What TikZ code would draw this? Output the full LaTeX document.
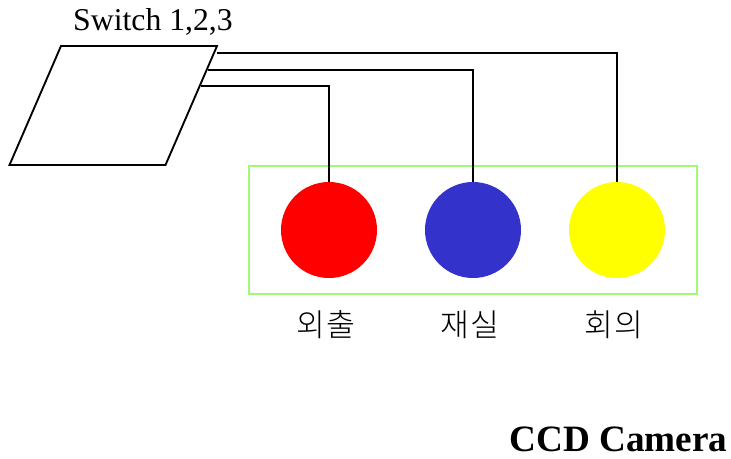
\documentclass[tikz,border=0pt]{standalone}
\usepackage{fontspec}
\setmainfont{Liberation Serif}
\newfontfamily\krfont{Noto Sans CJK KR Light}
\definecolor{lampred}{RGB}{255,0,0}
\definecolor{lampblue}{RGB}{51,51,204}
\definecolor{lampyellow}{RGB}{255,255,0}
\definecolor{boxgreen}{RGB}{160,250,120}
\tikzset{
  wire/.style={draw=black,line width=1.4pt},
  lamp/.style={circle,minimum size=72pt,inner sep=0pt},
  krlabel/.style={font=\krfont\fontsize{23.5}{26}\selectfont,inner sep=0pt},
}
\begin{document}
\begin{tikzpicture}[x=0.75pt,y=-0.75pt]
\useasboundingbox (0,0) rectangle (731,458);
\fill[white] (0,0) rectangle (731,458);
\draw[line width=1.4pt,line join=miter] (61,46) -- (217,46) -- (165.5,165) -- (9.5,165) -- cycle;
\coordinate (s1) at (201,86);
\coordinate (s2) at (208,70);
\coordinate (s3) at (217,53);
\draw[draw=boxgreen,line width=1.5pt] (249,166) rectangle (697,294);
\node[lamp,fill=lampred] (a) at (329,230) {};
\node[lamp,fill=lampblue] (b) at (473,230) {};
\node[lamp,fill=lampyellow] (c) at (617,230) {};
\draw[wire] (s1) -| (a.north);
\draw[wire] (s2) -| (b.north);
\draw[wire] (s3) -| (c.north);
\node[font=\fontsize{23.8}{26}\selectfont,inner sep=0pt] (sw) at (153,21.5) {Switch 1,2,3};
\node[krlabel] (la) at (326,325) {외\kern0.8pt 출};
\node[krlabel] (lb) at (470,325) {재\kern0.8pt 실};
\node[krlabel] (lc) at (613.5,325) {회\kern0.8pt 의};
\node[font=\bfseries\fontsize{27.9}{30}\selectfont,inner sep=0pt] (cam) at (618.5,439) {CCD Camera};
\end{tikzpicture}
\end{document}
